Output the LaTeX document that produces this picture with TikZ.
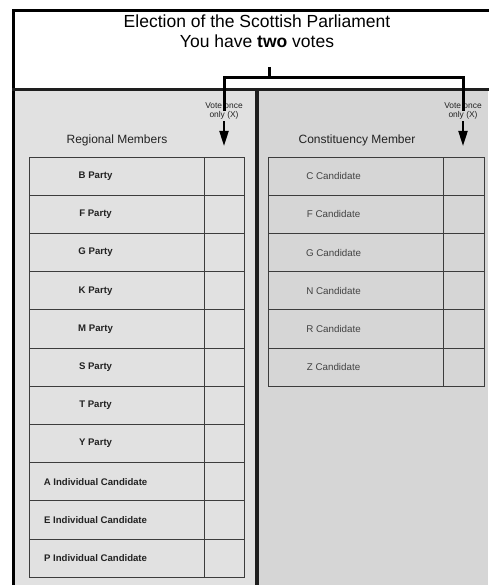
\documentclass[tikz,border=0pt]{standalone}
\usepackage{fontspec}
\setmainfont{Liberation Sans}
\usetikzlibrary{positioning,arrows.meta}
\definecolor{paneleft}{HTML}{E1E1E1}
\definecolor{paneright}{HTML}{D6D6D6}
\definecolor{rule}{HTML}{1E1E1E}
\definecolor{gridline}{HTML}{3C3C3C}
\definecolor{labelink}{HTML}{222222}

\begin{document}
\begin{tikzpicture}[x=1pt,y=-1pt,
  namebox/.style={draw=gridline, line width=0.9pt, minimum width=175pt, minimum height=38.2pt, inner sep=0pt},
  votebox/.style={draw=gridline, line width=0.9pt, minimum width=40pt, minimum height=38.2pt, inner sep=0pt},
  partytext/.style={font=\fontsize{9.6}{11}\selectfont\bfseries, text=labelink, inner sep=0pt},
  candtext/.style={font=\fontsize{9.8}{11}\selectfont, text=labelink!85, inner sep=0pt},
  heading/.style={font=\fontsize{12}{14}\selectfont, text=labelink, inner sep=0pt},
  voteonce/.style={font=\fontsize{8.4}{9}\selectfont, text=labelink, align=center, inner sep=0pt},
  bracket/.style={line width=3pt, black},
  votearrow/.style={line width=2pt, black, -{Triangle[length=15pt,width=9pt]}, shorten <=2pt}]
\useasboundingbox (0,0) rectangle (488,585);

\fill[paneleft] (14,89.5) rectangle (257,585);
\fill[paneright] (257,89.5) rectangle (488,585);
\draw[line width=3pt] (13.5,585) -- (13.5,10.5) -- (489,10.5);
\draw[rule, line width=2.5pt] (12,89.5) -- (489,89.5);
\draw[rule, line width=3.5pt] (257,89.5) -- (257,586);

\node[font=\fontsize{17.5}{20}\selectfont, align=center, inner sep=0pt, anchor=north] (title) at (257,14.5)
  {Election of the Scottish Parliament\\You have \textbf{two} votes};

\node[heading] (regional) at (117,140) {Regional Members};
\node[heading] (constit) at (357,140) {Constituency Member};

\node[voteonce] (voteL) at (224,111) {Vote once\\only (X)};
\node[voteonce] (voteR) at (463,111) {Vote once\\only (X)};
\coordinate (stem) at (269,67);
\coordinate (fork) at (269,78);
\coordinate (tipL) at (224,146);
\coordinate (tipR) at (463,146);

\draw[bracket] (stem) -- (fork) -| (voteL.center);
\draw[bracket] (fork) -| (voteR.center);
\draw[votearrow] (voteL.south) -- (tipL);
\draw[votearrow] (voteR.south) -- (tipR);

% regional list
\foreach \party [count=\i] in {B Party, F Party, G Party, K Party, M Party, S Party, T Party, Y Party,
    A Individual Candidate, E Individual Candidate, P Individual Candidate} {
  \node[namebox] (regname\i) at (116.5,{157+(\i-0.5)*38.2}) {};
  \node[votebox, right=0pt of regname\i] (regvote\i) {};
  \node[partytext] at ([xshift=67pt]regname\i.west) {\party};
}

% constituency list
\foreach \cand [count=\i] in {C Candidate, F Candidate, G Candidate, N Candidate, R Candidate, Z Candidate} {
  \node[namebox] (conname\i) at (355.5,{157+(\i-0.5)*38.2}) {};
  \node[votebox, minimum width=41pt, right=0pt of conname\i] (convote\i) {};
  \node[candtext] at ([xshift=66pt]conname\i.west) {\cand};
}
\end{tikzpicture}
\end{document}
